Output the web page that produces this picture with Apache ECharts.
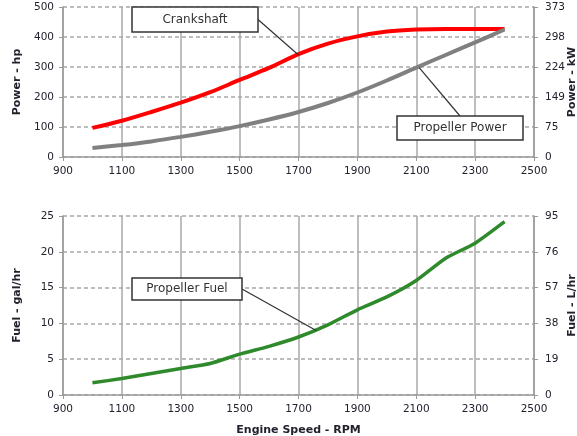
<!DOCTYPE html>
<html>
<head>
<meta charset="utf-8">
<script src="https://cdn.jsdelivr.net/npm/echarts@6/dist/echarts.min.js"></script>
<style>
  html, body { margin: 0; padding: 0; background: #fff; }
  #main { width: 577px; height: 436px; }
</style>
</head>
<body>
<div id="main"></div>
<script>
// engine speed, rpm
var rpm = [1000, 1100, 1200, 1300, 1400, 1500, 1600, 1700, 1800, 1900, 2000, 2100, 2200, 2300, 2400];
// power, hp
var crankshaft = [97, 121, 150, 181, 216, 257, 297, 343, 378, 402, 418, 425, 427, 427, 427];
var propPower = [30, 40, 52, 67, 84, 103, 125, 150, 180, 215, 255, 298, 340, 382, 425];
// fuel, gal/hr
var propFuel = [1.7, 2.3, 3.0, 3.7, 4.4, 5.7, 6.8, 8.1, 9.8, 11.9, 13.7, 16.0, 19.1, 21.2, 24.2];
// secondary axis tick labels
var kwLabels = [0, 75, 149, 224, 298, 373];
var lhrLabels = [0, 19, 38, 57, 76, 95];

var FONT = 'DejaVu Sans';
var TXT = '#22222e';

function pairs(xs, ys) {
    return xs.map(function (x, i) { return [x, ys[i]]; });
}

function xAxisCfg(idx, withName) {
    var a = {
        type: 'value', gridIndex: idx, min: 900, max: 2500, interval: 200,
        axisLine: { lineStyle: { color: '#9a9a9a', width: 1.5 } },
        axisTick: { show: true, length: 4, lineStyle: { color: '#9a9a9a' } },
        axisLabel: { color: TXT, fontFamily: FONT, fontSize: 10.5, margin: 9, formatter: function (v) { return String(v); } },
        splitLine: { show: true, lineStyle: { color: '#a8a8a8', width: 1.5 } }
    };
    if (withName) {
        a.name = 'Engine Speed - RPM';
        a.nameLocation = 'middle';
        a.nameGap = 30;
        a.nameMoveOverlap = false;
        a.nameTextStyle = { color: TXT, fontFamily: FONT, fontSize: 11, fontWeight: 'bold' };
    }
    return a;
}

function yAxisCfg(idx, pos, max, interval, name, labels, gap) {
    return {
        type: 'value', gridIndex: idx, position: pos, min: 0, max: max, interval: interval,
        name: name, nameLocation: 'middle', nameGap: gap, nameMoveOverlap: false,
        nameTextStyle: { color: TXT, fontFamily: FONT, fontSize: 11, fontWeight: 'bold' },
        axisLine: { show: true, lineStyle: { color: '#9a9a9a', width: 1.5 } },
        axisTick: { show: true, length: 4, lineStyle: { color: '#9a9a9a' } },
        axisLabel: {
            color: TXT, fontFamily: FONT, fontSize: 10.5, margin: pos === 'left' ? 9 : 11,
            formatter: labels ? function (v) { return String(labels[Math.round(v / interval)]); } : function (v) { return String(v); }
        },
        splitLine: pos === 'left' ? { show: true, lineStyle: { color: '#a8a8a8', type: [4, 3], width: 1.5 } } : { show: false }
    };
}

var myChart = echarts.init(document.getElementById('main'));

var option = {
    backgroundColor: '#fff',
    animation: false,
    grid: [
        { left: 63, right: 43, top: 7, height: 150, outerBoundsMode: 'none', containLabel: false },
        { left: 63, right: 43, top: 216, height: 179, outerBoundsMode: 'none', containLabel: false }
    ],
    xAxis: [xAxisCfg(0, false), xAxisCfg(1, true)],
    yAxis: [
        yAxisCfg(0, 'left', 500, 100, 'Power - hp', null, 40),
        yAxisCfg(0, 'right', 500, 100, 'Power - kW', kwLabels, 33),
        yAxisCfg(1, 'left', 25, 5, 'Fuel - gal/hr', null, 40),
        yAxisCfg(1, 'right', 25, 5, 'Fuel - L/hr', lhrLabels, 33)
    ],
    series: [
        {
            name: 'Crankshaft', type: 'line', xAxisIndex: 0, yAxisIndex: 0,
            smooth: 0.3, symbol: 'none',
            lineStyle: { color: '#ff0000', width: 4 },
            data: pairs(rpm, crankshaft)
        },
        {
            name: 'Propeller Power', type: 'line', xAxisIndex: 0, yAxisIndex: 0,
            smooth: 0.3, symbol: 'none',
            lineStyle: { color: '#808080', width: 4 },
            data: pairs(rpm, propPower)
        },
        {
            name: 'Propeller Fuel', type: 'line', xAxisIndex: 1, yAxisIndex: 2,
            smooth: 0.2, symbol: 'none',
            lineStyle: { color: '#2e8a2a', width: 3.5 },
            data: pairs(rpm, propFuel)
        }
    ]
};
myChart.setOption(option);

// callout boxes with leader lines, anchored to points on the curves
function callout(text, box, xVal, yVal, gridIdx, yAxisIdx, fromRight) {
    var p = myChart.convertToPixel({ xAxisIndex: gridIdx, yAxisIndex: yAxisIdx }, [xVal, yVal]);
    var sx = fromRight ? box.x + box.w : box.x + box.w * 0.5;
    var sy = fromRight ? box.y + box.h / 2 : box.y;
    return [
        { type: 'line', z: 50, shape: { x1: sx, y1: sy, x2: p[0], y2: p[1] }, style: { stroke: '#333', lineWidth: 1.2 } },
        {
            type: 'rect', z: 51, shape: { x: box.x, y: box.y, width: box.w, height: box.h },
            style: { fill: '#fff', stroke: '#333', lineWidth: 1.5 }
        },
        {
            type: 'text', z: 52, x: box.x + box.w / 2, y: box.y + box.h / 2,
            style: { text: text, fill: '#333', font: '12px "DejaVu Sans"', align: 'center', verticalAlign: 'middle' }
        }
    ];
}

var g = [];
g = g.concat(callout('Crankshaft', { x: 132, y: 7, w: 126, h: 25 }, 1700, 340, 0, 0, true));
g = g.concat(callout('Propeller Power', { x: 397, y: 116, w: 126, h: 24 }, 2110, 298, 0, 0, false));
g = g.concat(callout('Propeller Fuel', { x: 132, y: 278, w: 110, h: 22 }, 1760, 9.0, 1, 2, true));
myChart.setOption({ graphic: g });
</script>
</body>
</html>
